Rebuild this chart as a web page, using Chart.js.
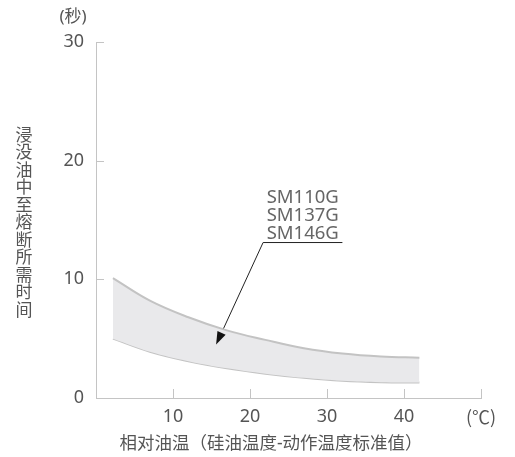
<!DOCTYPE html>
<html>
<head>
<meta charset="utf-8">
<script src="https://cdn.jsdelivr.net/npm/chart.js@4.4.1/dist/chart.umd.min.js"></script>
<style>
html,body{margin:0;padding:0;background:#fff}
#wrap{width:515px;height:457px}
</style>
</head>
<body>
<div id="wrap"><canvas id="c" width="515" height="457"></canvas></div>
<script>
// data
const tempX=[2.2,7,12,17,22,27,32,37,42]
const upperTime=[10.1,8.2,6.8,5.7,4.9,4.2,3.75,3.5,3.4]
const lowerTime=[5.0,3.9,3.1,2.5,2.05,1.7,1.45,1.33,1.3]
const leaderX=[32,21.7,15.6]
const leaderY=[13.1,13.1,4.5]
const modelNames=["SM110G","SM137G","SM146G"]
const xTickValues=[10,20,30,40,50]
const yTickValues=[0,10,20,30]
const yTitle="浸没油中至熔断所需时间"
const xTitle="相对油温（硅油温度-动作温度标准值）"
const yUnit="(秒)"
const xUnit="(℃)"

const fontFam="'Noto Sans','Noto Sans CJK SC',sans-serif"
const cjkFam="'Noto Sans CJK SC',sans-serif"
const textCol="#555"
const axisCol="#c4c4c4"

const toPts=(xs,ys)=>xs.map((x,i)=>({x:x,y:ys[i]}))

const extrasPlugin={
id:'extras',
afterDraw(chart){
const ctx=chart.ctx, xs=chart.scales.x, ys=chart.scales.y
ctx.save()
// inner tick marks
ctx.strokeStyle=axisCol;ctx.lineWidth=1
xTickValues.forEach(v=>{const px=Math.round(xs.getPixelForValue(v))+0.5
ctx.beginPath();ctx.moveTo(px,ys.bottom);ctx.lineTo(px,ys.bottom-9);ctx.stroke()})
yTickValues.forEach(v=>{if(v===0)return;const py=Math.round(ys.getPixelForValue(v))+0.5
ctx.beginPath();ctx.moveTo(xs.left,py);ctx.lineTo(xs.left+8,py);ctx.stroke()})
// arrow head
const n=leaderX.length
const tx=xs.getPixelForValue(leaderX[n-1]),ty=ys.getPixelForValue(leaderY[n-1])
const fx=xs.getPixelForValue(leaderX[n-2]),fy=ys.getPixelForValue(leaderY[n-2])
const a=Math.atan2(ty-fy,tx-fx)
ctx.fillStyle="#111"
ctx.beginPath()
ctx.moveTo(tx,ty)
ctx.lineTo(tx-13*Math.cos(a)+4.5*Math.sin(a),ty-13*Math.sin(a)-4.5*Math.cos(a))
ctx.lineTo(tx-13*Math.cos(a)-4.5*Math.sin(a),ty-13*Math.sin(a)+4.5*Math.cos(a))
ctx.closePath();ctx.fill()
// model labels
ctx.fillStyle="#666";ctx.font="18.5px "+fontFam;ctx.textAlign="center";ctx.textBaseline="alphabetic"
const lx=(xs.getPixelForValue(leaderX[0])+xs.getPixelForValue(leaderX[1]))/2
const ly=ys.getPixelForValue(leaderY[0])
modelNames.forEach((m,i)=>ctx.fillText(m,lx,ly-4-(modelNames.length-1-i)*18))
// y title, stacked characters
ctx.fillStyle=textCol;ctx.font="17px "+fontFam;ctx.textBaseline="middle"
Array.from(yTitle).forEach((ch,i)=>ctx.fillText(ch,24,136+i*17.5))
// units
ctx.font="17px "+fontFam
ctx.fillText(yUnit,73,17)
// x title
ctx.font="17.5px "+fontFam
ctx.fillText(xTitle,271,444)
ctx.restore()
}
}

new Chart(document.getElementById('c'),{
type:'line',
data:{
datasets:[
{data:toPts(tempX,upperTime),borderColor:"#c3c3c3",borderWidth:2,backgroundColor:"#e9e9eb",fill:'+1',pointRadius:0,tension:0.4},
{data:toPts(tempX,lowerTime),borderColor:"#c3c3c3",borderWidth:2,fill:false,pointRadius:0,tension:0.4},
{data:toPts(leaderX,leaderY),borderColor:"#222",borderWidth:1,fill:false,pointRadius:0,tension:0}
]
},
options:{
responsive:false,
animation:false,
layout:{padding:{left:0,top:42,right:34,bottom:0}},
plugins:{legend:{display:false},tooltip:{enabled:false}},
scales:{
x:{type:'linear',min:0,max:50,
afterFit:s=>{s.height=59},
afterBuildTicks:s=>{s.ticks=xTickValues.map(v=>({value:v}))},
grid:{display:false,drawTicks:false},
border:{color:axisCol,width:1},
ticks:{padding:8,color:textCol,font:c=>({family:c.tick&&c.tick.value===50?cjkFam:fontFam,size:18}),callback:v=>v===50?xUnit:String(v),maxRotation:0,autoSkip:false}},
y:{min:0,max:30,
afterFit:s=>{s.width=96},
afterBuildTicks:s=>{s.ticks=yTickValues.map(v=>({value:v}))},
grid:{display:false,drawTicks:false},
border:{color:axisCol,width:1},
ticks:{padding:12,color:textCol,font:{family:fontFam,size:18}}}
}
},
plugins:[extrasPlugin]
})
</script>
</body>
</html>
